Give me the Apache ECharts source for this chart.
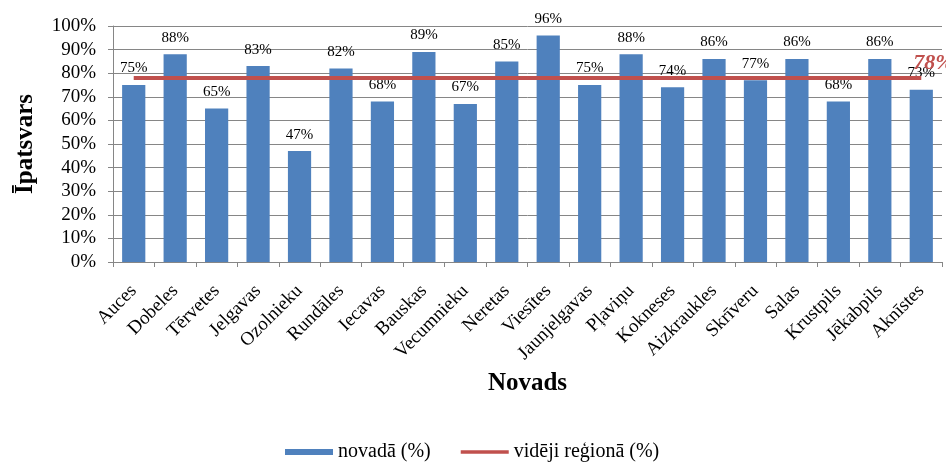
<!DOCTYPE html>
<html>
<head>
<meta charset="utf-8">
<script src="https://cdn.jsdelivr.net/npm/echarts@6/dist/echarts.min.js"></script>
<style>
  html, body { margin: 0; padding: 0; background: #fff; }
  #chart { width: 946px; height: 462px; }
</style>
</head>
<body>
<div id="chart"></div>
<script>
var novadi = ['Auces', 'Dobeles', 'Tērvetes', 'Jelgavas', 'Ozolnieku', 'Rundāles', 'Iecavas', 'Bauskas', 'Vecumnieku', 'Neretas',
  'Viesītes', 'Jaunjelgavas', 'Pļaviņu', 'Kokneses', 'Aizkraukles', 'Skrīveru', 'Salas', 'Krustpils', 'Jēkabpils', 'Aknīstes'];
var novadaVal = [75, 88, 65, 83, 47, 82, 68, 89, 67, 85, 96, 75, 88, 74, 86, 77, 86, 68, 86, 73];
var videjiVal = [78, 78, 78, 78, 78, 78, 78, 78, 78, 78, 78, 78, 78, 78, 78, 78, 78, 78, 78, 78];

var serif = '"Liberation Serif", "DejaVu Serif", serif';
var chart = echarts.init(document.getElementById('chart'));

chart.setOption({
  animation: false,
  backgroundColor: '#fff',
  textStyle: { fontFamily: serif },
  grid: { left: 113, right: 4, top: 26, bottom: 200 },
  legend: {
    top: 437,
    left: 280,
    itemWidth: 48,
    itemHeight: 6,
    itemGap: 30,
    textStyle: { fontFamily: serif, fontSize: 20, color: '#000' },
    data: [
      { name: 'novadā (%)', icon: 'rect' },
      { name: 'vidēji reģionā (%)', icon: 'path://M0,0H52V4H0Z' }
    ]
  },
  xAxis: {
    type: 'category',
    data: novadi,
    name: 'Novads',
    nameLocation: 'middle',
    nameGap: 109,
    nameTextStyle: { fontFamily: serif, fontSize: 25, fontWeight: 'bold', color: '#000' },
    axisLine: { lineStyle: { color: '#868686' } },
    axisTick: { show: true, length: 5, lineStyle: { color: '#868686' } },
    axisLabel: { rotate: 45, fontSize: 19, color: '#000', margin: 26, interval: 0 }
  },
  yAxis: {
    type: 'value',
    min: 0,
    max: 100,
    interval: 10,
    name: 'Īpatsvars',
    nameLocation: 'middle',
    nameGap: 75,
    nameTextStyle: { fontFamily: serif, fontSize: 25, fontWeight: 'bold', color: '#000' },
    axisLine: { show: true, lineStyle: { color: '#868686' } },
    axisTick: { show: true, length: 5, lineStyle: { color: '#868686' } },
    axisLabel: { formatter: '{value}%', fontSize: 19, color: '#000', margin: 17 },
    splitLine: { lineStyle: { color: '#868686', width: 1 } }
  },
  series: [
    {
      name: 'novadā (%)',
      type: 'bar',
      data: novadaVal,
      barWidth: '56%',
      itemStyle: { color: '#4F81BD' },
      label: {
        show: true,
        position: 'top',
        distance: 9,
        formatter: '{c}%',
        fontFamily: serif,
        fontSize: 15,
        color: '#000'
      }
    },
    {
      name: 'vidēji reģionā (%)',
      type: 'line',
      data: videjiVal,
      symbol: 'none',
      z: 3,
      lineStyle: { color: '#C0504D', width: 4 },
      itemStyle: { color: '#C0504D' },
      endLabel: {
        show: true,
        distance: 0,
        offset: [-8, -15],
        formatter: '{c}%',
        fontFamily: serif,
        fontSize: 22,
        fontWeight: 'bold',
        fontStyle: 'italic',
        color: '#C0504D'
      }
    }
  ]
});
</script>
</body>
</html>
